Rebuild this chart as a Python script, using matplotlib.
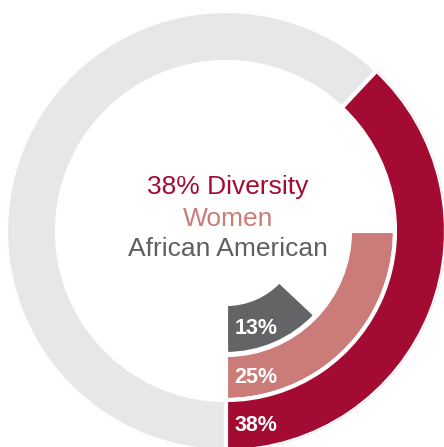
import numpy as np
import matplotlib
matplotlib.use("Agg")
import matplotlib.pyplot as plt

plt.rcParams['font.family'] = ['Liberation Sans', 'DejaVu Sans']

# data
groups = ['African American', 'Women', 'Diversity']
shares = [13, 25, 38]
labels = ['13%', '25%', '38%']
colors = ['#636466', '#CB7C78', '#A30B32']
title_lines = ['38% Diversity', 'Women', 'African American']
title_colors = ['#A30B32', '#CB7C78', '#5F5F5F']

# ring geometry in pixels (axes radius = 220 px)
ring_lo = [73, 124, 169]
ring_hi = [123, 169, 220]
track = '#E6E7E9'

W, H = 444, 447
cx, cy, R = 226, 231, 220
fig = plt.figure(figsize=(W / 100, H / 100), dpi=100)
ax = fig.add_axes([(cx - R) / W, (H - cy - R) / H, 2 * R / W, 2 * R / H],
                  projection='polar')
ax.set_theta_zero_location('S')
ax.set_theta_direction(1)
ax.set_ylim(0, R)
ax.axis('off')

for share, lab, col, lo, hi in zip(shares, labels, colors, ring_lo, ring_hi):
    frac = share / 100
    ax.barh(lo, frac * 2 * np.pi, left=0, height=hi - lo, align='edge',
            color=col, edgecolor='white', linewidth=3)
    ax.annotate(lab, xy=(0, (lo + hi) / 2), xytext=(6, 0),
                textcoords='offset points', ha='left', va='center',
                color='white', fontsize=15.5, fontweight='bold')

# grey track on the outer ring only
outer = shares[-1] / 100
ax.barh(ring_lo[-1], (1 - outer) * 2 * np.pi, left=outer * 2 * np.pi,
        height=ring_hi[-1] - ring_lo[-1], align='edge',
        color=track, edgecolor='white', linewidth=3, zorder=0)

for txt, col, yy in zip(title_lines, title_colors, [187, 219, 249]):
    fig.text(228 / W, 1 - yy / H, txt, color=col, fontsize=19,
             ha='center', va='center')

fig.savefig('out.png', dpi=100)
